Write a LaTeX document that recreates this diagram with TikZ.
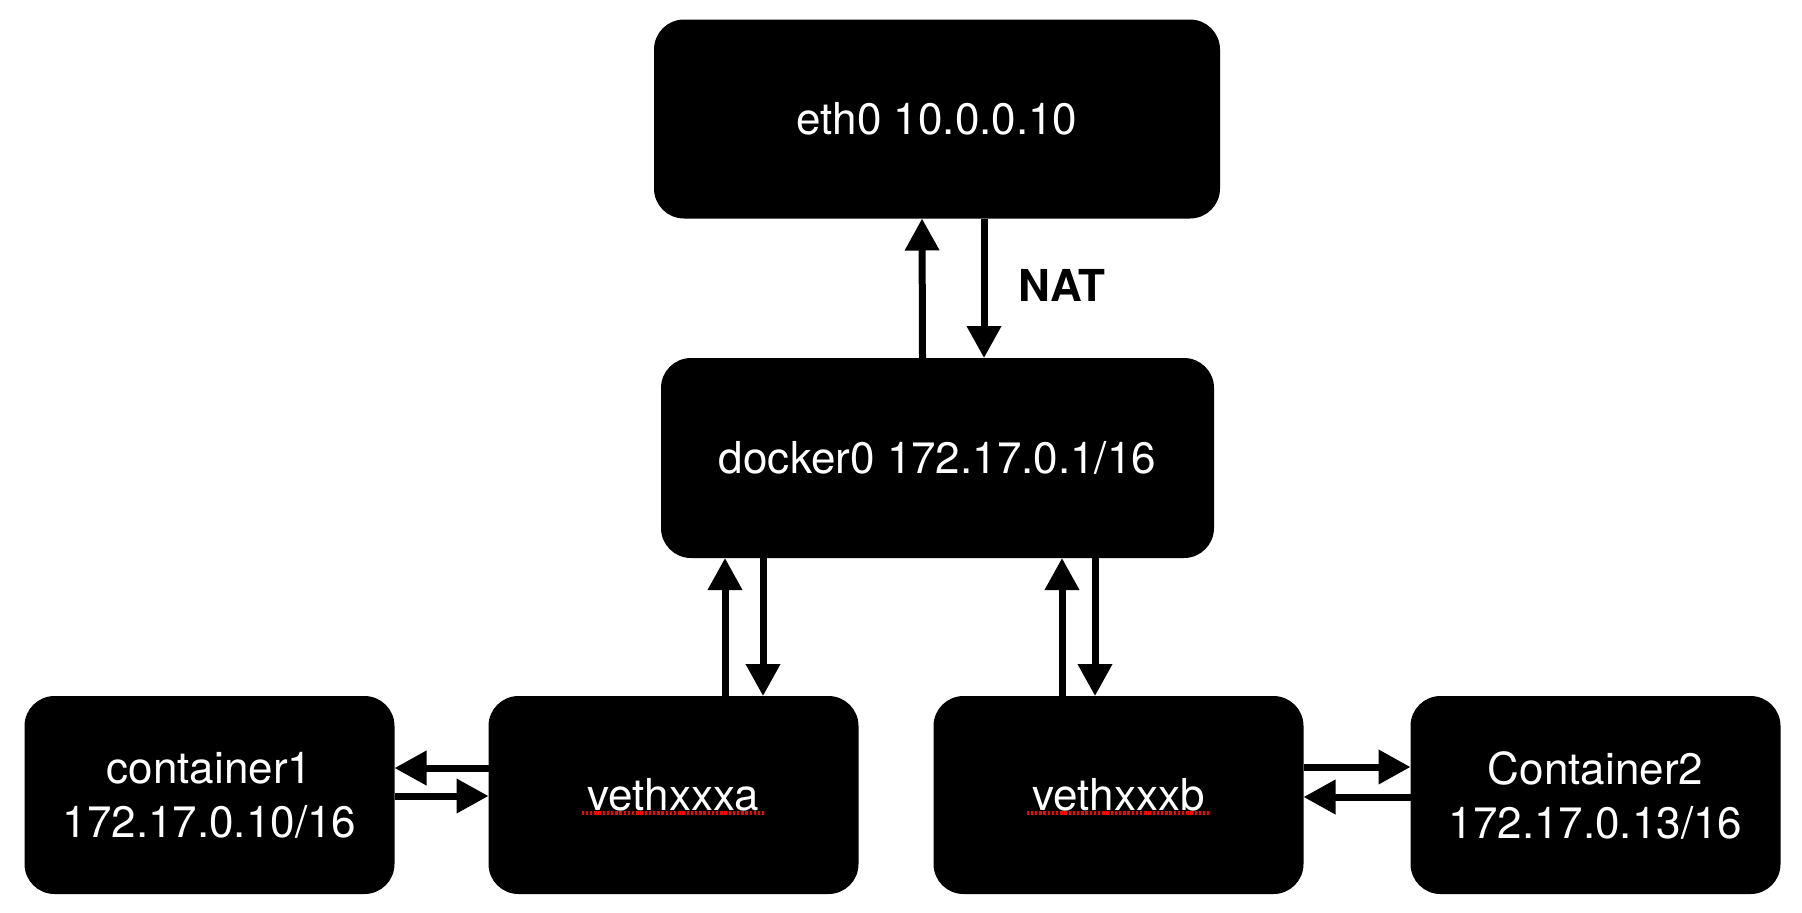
\documentclass[tikz,border=0pt]{standalone}
\usepackage{fontspec}
\setmainfont{TeX Gyre Heros}
\usetikzlibrary{arrows.meta}

\begin{document}
\begin{tikzpicture}[x=0.5pt,y=-0.5pt,
	box/.style={fill=black,rounded corners=15pt,inner sep=0,outer sep=0,text=white,align=center,font=\fontsize{22}{27}\selectfont},
	link/.style={line width=3.5pt,-{Triangle[length=16pt,width=16.5pt]}},
	spell/.style={red,line width=1.6pt,dash pattern=on 1.2pt off 0.9pt}]
	\useasboundingbox (0,0) rectangle (1802,912);
	\node[box,minimum width=283pt,minimum height=99.5pt] (1) at (937,119) {eth0 10.0.0.10};
	\node[box,minimum width=276.5pt,minimum height=100pt] (2) at (937.5,458) {docker0 172.17.0.1/16};
	\node[box,minimum width=185pt,minimum height=99pt] (3) at (209.5,795) {container1\\172.17.0.10/16};
	\node[box,minimum width=185pt,minimum height=99pt] (4) at (673.5,795) {vethxxxa};
	\node[box,minimum width=185pt,minimum height=99pt] (5) at (1118.5,795) {vethxxxb};
	\node[box,minimum width=185pt,minimum height=99pt] (6) at (1595.5,795) {Container2\\172.17.0.13/16};
	\node[inner sep=0,font=\bfseries\fontsize{22}{27}\selectfont] (nat) at (1062,285) {NAT};
	\draw[link] ([xshift=-7.5pt]2.north) -- ([xshift=-7.5pt]1.south);
	\draw[link] ([xshift=23.5pt]1.south) -- ([xshift=23.25pt]2.north);
	\draw[link] ([xshift=25.75pt]4.north) -- ([xshift=-106.25pt]2.south);
	\draw[link] ([xshift=-87.25pt]2.south) -- ([xshift=44.75pt]4.north);
	\draw[link] ([xshift=-28.25pt]5.north) -- ([xshift=62.25pt]2.south);
	\draw[link] ([xshift=78.75pt]2.south) -- ([xshift=-11.75pt]5.north);
	\draw[link] ([yshift=13.5pt]4.west) -- ([yshift=13.5pt]3.east);
	\draw[link] ([yshift=-0.5pt]3.east) -- ([yshift=-0.5pt]4.west);
	\draw[link] ([yshift=14pt]5.east) -- ([yshift=14pt]6.west);
	\draw[link] ([yshift=-1pt]6.west) -- ([yshift=-1pt]5.east);
	\draw[spell] ([shift={(-92,18)}]4.center) -- ([shift={(90,18)}]4.center);
	\draw[spell] ([shift={(-92,18)}]5.center) -- ([shift={(90,18)}]5.center);
\end{tikzpicture}
\end{document}
